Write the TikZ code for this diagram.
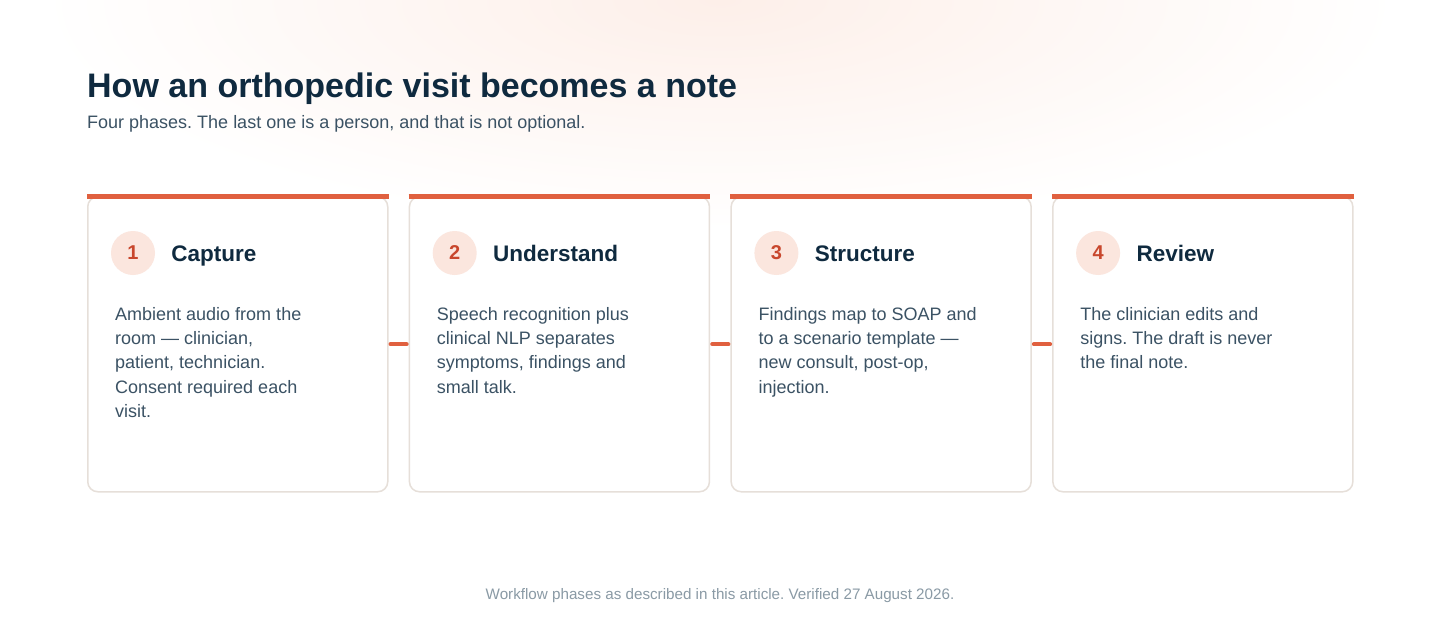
\documentclass[tikz,border=0pt]{standalone}
\usepackage{fontspec}
\setmainfont{Liberation Sans}
\usetikzlibrary{positioning}
\definecolor{navy}{HTML}{0F2A3F}
\definecolor{slate}{HTML}{3B5264}
\definecolor{muted}{HTML}{8A9AA5}
\definecolor{accent}{HTML}{E0603F}
\definecolor{numred}{HTML}{C8472D}
\definecolor{numbg}{HTML}{FBE6DE}
\definecolor{edge}{HTML}{E6DFD9}
\definecolor{glow}{HTML}{FDEFE9}
\frenchspacing

\begin{document}
\begin{tikzpicture}[x=1pt,y=-1pt,
		card/.style={draw=edge,
			line width=1.5pt,
			fill=white,
			rounded corners=10pt,
			minimum width=300pt,
			minimum height=295pt,
			anchor=north west},
		topbar/.style={accent,line width=5pt},
		link/.style={accent,line width=4pt,line cap=round},
		numdot/.style={circle,
			fill=numbg,
			minimum size=44pt,
			inner sep=0pt,
			text=numred,
			font=\fontsize{20}{24}\selectfont\bfseries},
		phase/.style={text=navy,
			inner sep=0pt,
			anchor=base west,
			font=\fontsize{22.5}{26}\selectfont\bfseries},
		blurb/.style={text=slate,
			inner sep=0pt,
			anchor=north west,
			align=left,
			font=\fontsize{18}{24.3}\selectfont}]
		\useasboundingbox (0,0) rectangle (1440,630);
		% faint background glow
		\begin{scope}
			\clip (0,0) rectangle (1440,630);
			\fill[white] (0,0) rectangle (1440,630);
			\shade[inner color=glow,outer color=white] (720,0) ellipse [x radius=680, y radius=230];
		\end{scope}
		% heading
		\node[text=navy,inner sep=0pt,anchor=base west,
		font=\fontsize{34}{40}\selectfont\bfseries] (heading) at (87,97) {How an orthopedic visit becomes a note};
		\node[text=slate,inner sep=0pt,anchor=base west,
		font=\fontsize{18}{21}\selectfont] (sub) at (87,128) {Four phases. The last one is a person, and that is not optional.};
		% cards
		\foreach \i/\ttl/\txt in {
			1/Capture/{Ambient audio from the\\room — clinician,\\patient, technician.\\Consent required each\\visit.},
			2/Understand/{Speech recognition plus\\clinical NLP separates\\symptoms, findings and\\small talk.},
			3/Structure/{Findings map to SOAP and\\to a scenario template —\\new consult, post-op,\\injection.},
			4/Review/{The clinician edits and\\signs. The draft is never\\the final note.}}
		{
			\node[card] (c\i) at ({87+(\i-1)*321.7},196) {};
			\draw[topbar] (c\i.north west) -- (c\i.north east);
			\node[numdot] (n\i) at ([xshift=46pt,yshift=-57pt]c\i.north west) {\i};
			\node[phase] (t\i) at ([xshift=16pt,yshift=-8pt]n\i.east) {\ttl};
			\node[blurb] (b\i) at ([xshift=28pt,yshift=-111pt]c\i.north west) {\txt};
		}
		% links between phases
		\foreach \a/\b in {1/2,2/3,3/4}
		\draw[link] ([xshift=2pt]c\a.east) -- ([xshift=-2pt]c\b.west);
		% footnote
		\node[text=muted,inner sep=0pt,anchor=base,
		font=\fontsize{15.2}{18}\selectfont] (foot) at (720,599) {Workflow phases as described in this article. Verified 27 August 2026.};
\end{tikzpicture}
\end{document}
